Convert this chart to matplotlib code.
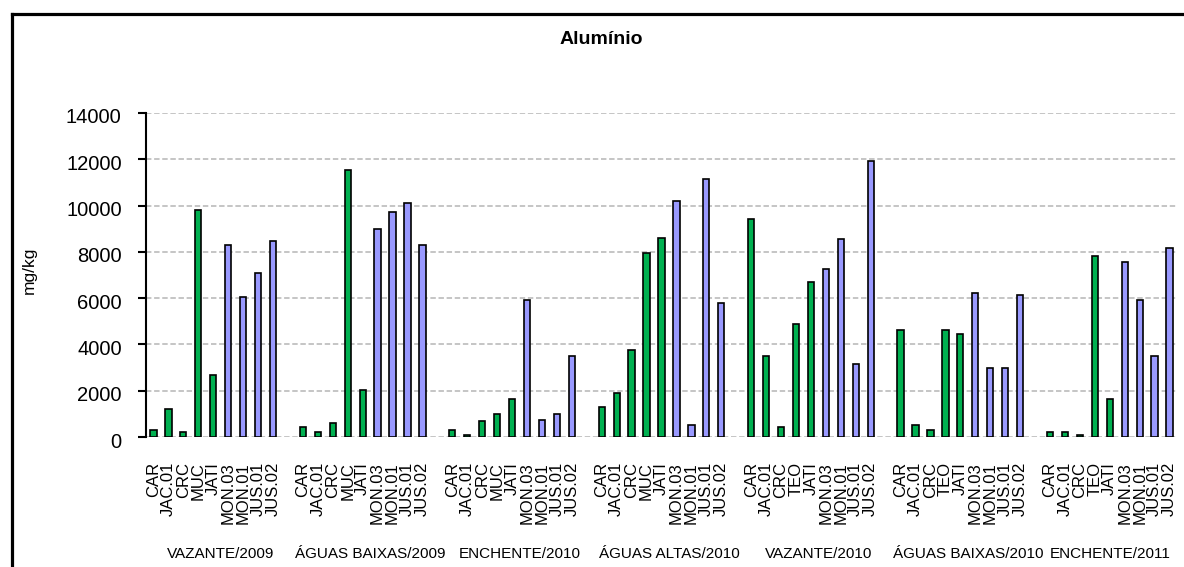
import matplotlib
matplotlib.use("Agg")
from matplotlib import pyplot as plt
from matplotlib.lines import Line2D
from matplotlib.transforms import ScaledTranslation

seasons = ["VAZANTE/2009", "ÁGUAS BAIXAS/2009", "ENCHENTE/2010", "ÁGUAS ALTAS/2010",
           "VAZANTE/2010", "ÁGUAS BAIXAS/2010", "ENCHENTE/2011"]

stations_a = ["CAR", "JAC.01", "CRC", "MUC", "JATI", "MON.03", "MON.01", "JUS.01", "JUS.02"]
stations_b = ["CAR", "JAC.01", "CRC", "TEO", "JATI", "MON.03", "MON.01", "JUS.01", "JUS.02"]
stations = [stations_a, stations_a, stations_a, stations_a, stations_b, stations_b, stations_b]

vaz_2009 = [300, 1200, 230, 9800, 2700, 8300, 6070, 7100, 8460]
ab_2009 = [450, 230, 600, 11530, 2020, 9000, 9730, 10100, 8300]
ench_2010 = [300, 90, 680, 980, 1650, 5930, 750, 980, 3520]
aa_2010 = [1290, 1880, 3750, 7950, 8620, 10190, 530, 11160, 5770]
vaz_2010 = [9440, 3520, 450, 4870, 6680, 7270, 8550, 3160, 11910]
ab_2010 = [4640, 530, 300, 4640, 4430, 6230, 3000, 3000, 6140]
ench_2011 = [230, 230, 90, 7800, 1650, 7570, 5930, 3520, 8180]
values = [vaz_2009, ab_2009, ench_2010, aa_2010, vaz_2010, ab_2010, ench_2011]

green = "#00B050"
blue = "#9999FF"

plt.rcParams['font.family'] = ['Liberation Sans', 'DejaVu Sans']

fig = plt.figure(figsize=(11.84, 5.67), dpi=100)
W, H = 1184, 567
ax = fig.add_axes([146 / W, (H - 437) / H, (1177 - 146) / W, (437 - 113) / H])

n_slots = 69
xs = []
labels = []
for g in range(len(seasons)):
    pos = [10 * g + i for i in range(len(values[g]))]
    cols = [green] * 5 + [blue] * 4
    ax.bar(pos, values[g], width=0.42, color=cols, edgecolor="black", linewidth=1.2, zorder=3)
    xs += pos
    labels += stations[g]
    slots = list(range(10 * g, min(10 * g + 10, n_slots)))
    c = (slots[0] + slots[-1]) / 2
    fig.text((146 + (c + 0.5) * (1177 - 146) / n_slots) / W, 1 - 554 / H, seasons[g],
             ha="center", va="center", fontsize=11)

ax.set_xlim(-0.5, n_slots - 0.5)
ax.set_ylim(0, 14000)
ax.set_yticks(range(0, 14001, 2000))
ax.set_yticklabels([str(v) for v in range(0, 14001, 2000)], fontsize=14.5)
ax.set_xticks(xs)
ax.set_xticklabels(labels, rotation=90, fontsize=12, va="top", ha="center")
ax.tick_params(axis="x", length=0, pad=18)
ax.tick_params(axis="y", length=6, width=1.5, direction="out", pad=11.5)
for lab in ax.get_yticklabels():
    lab.set_transform(lab.get_transform() + ScaledTranslation(0, -0.03, fig.dpi_scale_trans))

ax.yaxis.grid(True, color="#C0C0C0", linestyle=(0, (3, 1.5)), linewidth=1.3)
ax.set_axisbelow(True)
for s in ["top", "right", "bottom"]:
    ax.spines[s].set_visible(False)
ax.spines["left"].set_linewidth(1.5)

fig.text(29 / W, 1 - 270 / H, "mg/kg", rotation=90, ha="center", va="center", fontsize=12.5)
fig.text(601 / W, 1 - 39 / H, "Alumínio", ha="center", va="center", fontsize=14, fontweight="bold")

# chart area border (only top and left edges visible)
fig.add_artist(Line2D([12 / W, 12 / W], [0, 1 - 14 / H], color="black", linewidth=2.3,
                      transform=fig.transFigure))
fig.add_artist(Line2D([12 / W, 1], [1 - 14 / H, 1 - 14 / H], color="black", linewidth=2.3,
                      transform=fig.transFigure))

plt.savefig("out.png", dpi=100)
